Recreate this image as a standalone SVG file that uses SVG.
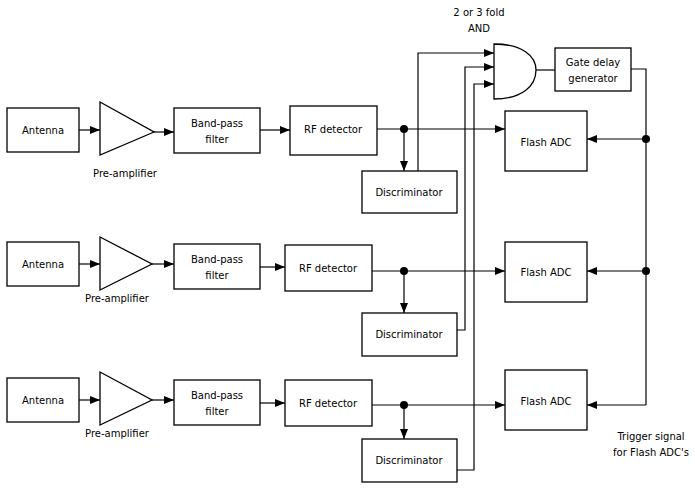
<svg xmlns="http://www.w3.org/2000/svg" width="695" height="498" viewBox="0 0 695 498">
<style>
.b{fill:#fff;stroke:#000;stroke-width:1.3}
.t{font-family:"DejaVu Sans",sans-serif;font-size:10px;text-anchor:middle}
.c{fill:none;stroke:#000;stroke-width:1.2}
.a{marker-end:url(#ar)}
</style>
<defs><marker id="ar" markerWidth="10" markerHeight="8" refX="10" refY="4" orient="auto" markerUnits="userSpaceOnUse"><path d="M0,0L10,4L0,8z"/></marker></defs>
<rect width="695" height="498" fill="#fff"/>
<g id="connectors">
<path class="c a" d="M79,130H100"/><path class="c a" d="M154,132H174"/><path class="c a" d="M260,130H290"/>
<path class="c a" d="M377,129H505"/><path class="c a" d="M404,129V171"/>
<path class="c a" d="M418,171V53H494"/>
<path class="c a" d="M79,264H100"/><path class="c a" d="M152,264H174"/><path class="c a" d="M260,267H285"/>
<path class="c a" d="M372,271H505"/><path class="c a" d="M404,271V313"/>
<path class="c a" d="M457,330H465V67H494"/>
<path class="c a" d="M79,400H100"/><path class="c a" d="M152,400H174"/><path class="c a" d="M260,403H285"/>
<path class="c a" d="M372,405H505"/><path class="c a" d="M404,405V439"/>
<path class="c a" d="M457,470H474V84H494"/>
<path class="c" d="M536,70H555"/>
<path class="c" d="M631,69H646V405"/>
<path class="c a" d="M646,139H587"/><path class="c a" d="M646,271H587"/><path class="c a" d="M646,405H587"/>
<circle cx="404" cy="129" r="4"/><circle cx="404" cy="271" r="4"/><circle cx="404" cy="405" r="4"/>
<circle cx="646" cy="139" r="4"/><circle cx="646" cy="271" r="4"/>
</g>
<g id="antenna1"><rect class="b" x="7" y="108" width="72" height="44"/><text class="t" x="43" y="134">Antenna</text></g>
<g id="amp1"><path class="b" d="M100,102L154,132L100,155Z"/><text class="t" x="125" y="177">Pre-amplifier</text></g>
<g id="bpf1"><rect class="b" x="174" y="108" width="86" height="45"/><text class="t" x="217" y="127">Band-pass</text><text class="t" x="217" y="143">filter</text></g>
<g id="rf1"><rect class="b" x="290" y="106" width="87" height="49"/><text class="t" x="333" y="133">RF detector</text></g>
<g id="disc1"><rect class="b" x="362" y="171" width="95" height="42"/><text class="t" x="409" y="196">Discriminator</text></g>
<g id="adc1"><rect class="b" x="505" y="111" width="82" height="60"/><text class="t" x="546" y="146">Flash ADC</text></g>
<g id="antenna2"><rect class="b" x="7" y="242" width="72" height="44"/><text class="t" x="43" y="268">Antenna</text></g>
<g id="amp2"><path class="b" d="M100,237L152,264L100,290Z"/><text class="t" x="117" y="302">Pre-amplifier</text></g>
<g id="bpf2"><rect class="b" x="174" y="244" width="86" height="45"/><text class="t" x="217" y="263">Band-pass</text><text class="t" x="217" y="279">filter</text></g>
<g id="rf2"><rect class="b" x="285" y="245" width="87" height="46"/><text class="t" x="328" y="272">RF detector</text></g>
<g id="disc2"><rect class="b" x="362" y="313" width="95" height="43"/><text class="t" x="409" y="338">Discriminator</text></g>
<g id="adc2"><rect class="b" x="505" y="242" width="82" height="60"/><text class="t" x="546" y="276">Flash ADC</text></g>
<g id="antenna3"><rect class="b" x="7" y="378" width="72" height="44"/><text class="t" x="43" y="404">Antenna</text></g>
<g id="amp3"><path class="b" d="M100,372L152,400L100,425Z"/><text class="t" x="117" y="437">Pre-amplifier</text></g>
<g id="bpf3"><rect class="b" x="174" y="380" width="86" height="45"/><text class="t" x="217" y="399">Band-pass</text><text class="t" x="217" y="415">filter</text></g>
<g id="rf3"><rect class="b" x="285" y="380" width="87" height="46"/><text class="t" x="328" y="407">RF detector</text></g>
<g id="disc3"><rect class="b" x="362" y="439" width="95" height="43"/><text class="t" x="409" y="464">Discriminator</text></g>
<g id="adc3"><rect class="b" x="505" y="370" width="82" height="60"/><text class="t" x="546" y="405">Flash ADC</text></g>
<g id="and"><path class="b" d="M494,44C522,44 536,56 536,70C536,86 522,99 494,99Z" stroke-width="1.6"/><text class="t" x="479" y="16">2 or 3 fold</text><text class="t" x="479" y="32">AND</text></g>
<g id="gate"><rect class="b" x="555" y="48" width="76" height="43"/><text class="t" x="593" y="66">Gate delay</text><text class="t" x="593" y="82">generator</text></g>
<g id="trigger"><text class="t" x="651" y="440">Trigger signal</text><text class="t" x="651" y="456">for Flash ADC's</text></g>
</svg>
